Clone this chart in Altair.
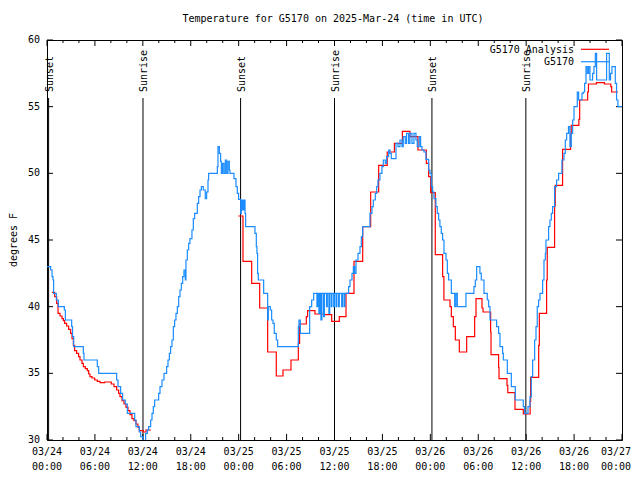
import altair as alt
import pandas as pd

# ---------------- data ----------------
blue_hours = [0.0, 0.46, 0.63, 0.75, 0.83, 1.17, 1.42, 2.17, 2.3, 3.09, 3.2, 3.34, 4.55, 4.63, 6.3, 6.47,
              8.72, 8.89, 9.22, 9.47, 9.8, 10.06, 10.98, 11.14, 11.56, 11.73, 12.0, 12.35, 12.56, 12.73,
              12.98, 13.15, 13.31, 13.48, 13.98, 14.15, 14.4, 14.65, 14.98, 15.15, 15.32, 15.48, 15.65,
              15.82, 15.98, 16.15, 16.32, 16.49, 16.65, 16.82, 16.99, 17.15, 17.32, 17.4, 17.57, 17.74,
              17.9, 18.15, 18.32, 18.49, 18.82, 18.99, 19.16, 19.33, 19.57, 19.82, 19.99, 20.16, 20.24,
              21.33, 21.41, 21.58, 21.74, 21.83, 21.99, 22.16, 22.33, 22.5, 22.66, 22.83, 22.91, 23.41,
              23.66, 23.83, 23.99, 24.25, 24.33, 24.42, 24.5, 24.58, 24.67, 24.8, 24.87, 26.04, 26.21,
              26.29, 26.37, 26.46, 27.13, 27.63, 27.71, 27.96, 28.13, 28.3, 28.46, 28.71, 28.88, 31.47,
              31.55, 31.72, 32.89, 33.14, 33.39, 33.8, 33.9, 34.05, 34.15, 34.3, 34.42, 34.63, 34.73,
              35.0, 35.1, 35.3, 35.4, 35.6, 35.68, 35.9, 36.0, 36.2, 36.28, 36.5, 36.6, 36.9, 37.0,
              37.2, 37.3, 37.77, 37.94,
              38.19, 38.36, 38.52, 38.69, 38.94, 39.19, 39.36, 39.53, 40.44, 40.69, 40.86, 41.11, 41.28,
              41.44, 41.69, 41.94, 42.11, 42.36, 42.53, 42.78, 42.95, 43.11, 43.7, 43.95, 44.2, 44.45,
              44.61, 44.86, 45.03, 45.28, 45.45, 45.7, 45.95, 46.2, 46.36, 46.61, 46.78, 46.95, 47.2,
              47.45, 47.79, 47.95, 48.12, 48.29, 48.45, 48.7, 48.87, 49.04, 49.2, 49.37, 49.54, 49.71,
              49.96, 50.13, 50.29, 50.63, 51.05, 51.21, 51.38, 52.46, 53.46, 53.63, 53.8, 54.21, 54.38,
              54.72, 55.13, 55.3, 55.47, 56.3, 56.55, 56.72, 57.05, 57.14, 57.64, 58.14, 58.64, 59.64,
              59.81, 60.23, 60.48, 60.64, 60.81, 61.06, 61.23, 61.39, 61.56, 61.73, 62.06, 62.23, 62.4,
              62.48, 62.81, 62.98, 63.15, 63.31, 63.56, 63.81, 64.06, 64.48, 64.73, 64.9, 65.07, 65.3,
              65.48, 65.65, 65.82, 65.99, 66.4, 66.57, 66.99, 67.15, 67.32, 67.49, 67.65, 67.82, 67.99,
              68.32, 68.49, 68.66, 68.82, 70.07, 70.41, 70.57, 70.74, 71.16, 71.32, 71.49, 72.0]
blue_temps = [43.0, 42.75, 42.25, 42.0, 41.0, 40.5, 40.0, 39.75, 39.0, 38.5, 37.75, 37.0, 36.5, 36.0, 35.5, 35.0,
              34.5, 34.0, 33.5, 33.0, 32.7, 32.0, 31.5, 31.0, 30.6, 30.25, 29.5, 30.5, 30.75, 31.0,
              31.5, 32.0, 32.5, 33.0, 33.5, 34.0, 34.5, 35.0, 35.5, 36.0, 36.5, 37.0, 37.5,
              38.5, 39.0, 39.5, 40.0, 40.75, 41.25, 41.75, 42.25, 42.75, 42.0, 43.5, 44.25, 44.75,
              45.1, 45.75, 46.6, 47.0, 47.75, 48.25, 48.75, 49.0, 48.75, 48.1, 48.6, 49.5, 50.0,
              50.5, 52.0, 51.5, 50.9, 50.0, 50.75, 50.0, 51.0, 50.0, 50.9, 50.25, 50.0, 49.6,
              49.0, 48.5, 48.05, 47.0, 48.0, 47.25, 48.0, 47.25, 48.0, 47.0, 46.0, 45.5, 44.5,
              44.0, 42.5, 42.0, 41.0, 39.0, 40.0, 39.75, 39.0, 38.75, 38.0, 37.5, 37.0, 38.5,
              39.0, 38.0, 40.0, 40.5, 41.0, 40.0, 41.0, 39.5, 41.0, 39.0, 41.0, 39.25, 41.0,
              40.0, 41.0, 39.5, 41.0, 40.0, 41.0, 40.0, 41.0, 40.0, 41.0, 40.0, 41.0, 40.0, 41.0,
              40.0, 41.0, 41.5, 42.0,
              42.5, 43.0, 42.5, 43.5, 44.0, 44.5, 45.25, 46.0, 47.0, 47.5, 48.0, 48.5, 49.0,
              49.5, 50.0, 50.5, 51.0, 50.75, 51.25, 51.75, 51.5, 51.1, 52.25, 52.0, 52.5, 52.0,
              52.75, 52.25, 53.0, 52.25, 53.0, 52.25, 53.0, 52.5, 52.0, 52.75, 52.0, 51.75, 51.6,
              51.05, 50.25, 50.0, 49.0, 48.6, 48.1, 47.5, 47.0, 46.5, 46.0, 45.5, 45.0, 44.0,
              43.5, 42.5, 42.0, 41.0, 40.0, 41.0, 40.0, 41.0, 41.5, 42.0, 43.0, 42.5, 42.0,
              41.0, 40.5, 40.0, 39.0, 38.5, 38.0, 37.0, 36.5, 36.0, 35.0, 34.0, 33.0, 32.5,
              32.0, 32.5, 33.25, 34.75, 36.0, 37.5, 38.5, 40.0, 40.5, 41.0, 42.0, 43.5, 44.0,
              45.0, 46.0, 46.5, 47.0, 47.5, 49.0, 49.5, 50.0, 51.0, 51.5, 52.5, 53.0, 53.5,
              52.0, 53.0, 54.0, 55.0, 56.1, 55.5, 56.0, 56.1, 56.75, 58.0, 57.5, 58.0, 57.0,
              57.5, 58.0, 59.0, 57.0, 59.0, 57.0, 57.5, 58.0, 56.75, 55.5, 55.0, 55.0]

red_hours_a = [0.63, 0.96, 1.21, 1.38, 1.63, 1.88, 2.05, 2.21, 2.46, 2.71, 2.96, 3.13, 3.3, 3.46, 3.71,
               3.96, 4.13, 4.38, 4.55, 4.8, 5.05, 5.22, 5.38, 5.63, 5.97, 6.3, 6.64, 7.22, 8.05, 8.39,
               8.72, 8.97, 9.14, 9.39, 9.64, 9.89, 10.14, 10.39, 10.64, 10.89, 11.14, 11.39, 11.56,
               12.06, 12.4, 13.0]
red_temps_a = [41.07, 40.75, 40.25, 39.5, 39.3, 39.1, 38.95, 38.75, 38.55, 38.3, 38.0, 37.6, 37.1, 36.7, 36.5,
               36.25, 36.0, 35.75, 35.5, 35.35, 35.2, 34.95, 34.75, 34.65, 34.5, 34.4, 34.3, 34.35, 34.2, 34.0,
               33.75, 33.5, 33.25, 32.95, 32.7, 32.45, 32.2, 31.9, 31.6, 31.45, 31.2, 30.95, 30.7,
               30.6, 30.75, 30.75]
red_hours_b = [23.96, 24.54, 25.63, 26.63, 27.63, 28.71, 29.55, 30.55, 31.47, 31.63, 32.47, 32.63, 33.55,
               34.64, 35.65, 36.6, 37.44, 38.44, 39.53, 40.53, 41.53, 42.6, 43.5, 44.5, 45.45, 46.45,
               47.5, 47.79, 48.04, 48.62, 49.54, 49.7, 50.46, 50.63, 50.88, 51.13, 51.63, 52.55, 53.55,
               53.72, 54.47, 54.6, 55.55, 55.6, 56.55, 56.6, 57.6, 57.7, 58.6, 59.64, 60.5, 60.56,
               61.57, 61.65, 62.56, 62.64, 63.56, 63.64, 64.56, 65.56, 65.64, 66.6, 66.7, 67.7, 67.8,
               68.8, 69.8, 70.6, 70.7, 71.5]
red_temps_b = [46.8, 43.4, 41.75, 39.9, 36.6, 34.8, 35.25, 36.0, 37.25, 38.7, 39.25, 39.7, 39.45,
               39.4, 38.9, 39.25, 41.0, 43.4, 46.0, 48.6, 50.6, 51.6, 52.25, 53.15, 52.75, 51.75,
               50.75, 49.75, 48.55, 43.9, 42.25, 40.5, 40.0, 39.25, 38.5, 37.5, 36.6, 37.75, 39.25,
               40.6, 39.9, 39.6, 38.1, 36.4, 35.45, 34.6, 34.1, 33.55, 32.3, 31.95, 32.9, 34.7,
               37.1, 39.5, 42.0, 44.45, 47.55, 49.1, 51.8, 53.0, 53.6, 54.05, 55.5, 56.1, 56.7,
               56.8, 56.7, 56.5, 56.1, 56.1]

sun_hours = [0.2, 12.02, 24.24, 36.0, 48.2, 59.96]
sun_labels = ["Sunset", "Sunrise", "Sunset", "Sunrise", "Sunset", "Sunrise"]

x_major_hours = list(range(0, 73, 6))
x_minor_hours = [h for h in range(0, 73, 2) if h % 6 != 0]
date_labels = ["03/24", "03/24", "03/24", "03/24", "03/25", "03/25", "03/25", "03/25",
               "03/26", "03/26", "03/26", "03/26", "03/27"]
time_labels = ["00:00", "06:00", "12:00", "18:00"] * 3 + ["00:00"]
y_ticks = [30, 35, 40, 45, 50, 55, 60]
y_tick_labels = ["30", "35", "40", "45", "50", "55", "60"]

title_text = "Temperature for G5170 on 2025-Mar-24 (time in UTC)"
y_title = "degrees F"
legend_labels = ["G5170 Analysis", "G5170"]

# ---------------- chart ----------------
W, H = 575, 400
FONT = "DejaVu Sans Mono"
FS = 10
RED = "#ff0000"
BLUE = "#1a8cff"
LW = 1.2

xs = alt.Scale(domain=[0, 72], nice=False, zero=False)
ys = alt.Scale(domain=[30, 60], nice=False, zero=False)
X = alt.X("hour:Q", scale=xs, axis=None)
Y = alt.Y("temp:Q", scale=ys, axis=None)

blue_df = pd.DataFrame({"hour": blue_hours, "temp": blue_temps})
red_df = pd.concat([
    pd.DataFrame({"hour": red_hours_a, "temp": red_temps_a, "seg": 0}),
    pd.DataFrame({"hour": red_hours_b, "temp": red_temps_b, "seg": 1}),
], ignore_index=True)

sun_df = pd.DataFrame({"hour": sun_hours, "label": sun_labels})
xmaj_df = pd.DataFrame({"hour": x_major_hours, "date": date_labels, "time": time_labels})
xlab_main = xmaj_df[xmaj_df["hour"] < 72]
xlab_last = xmaj_df[xmaj_df["hour"] >= 72]
xmin_df = pd.DataFrame({"hour": x_minor_hours})
yt_df = pd.DataFrame({"temp": y_ticks, "label": y_tick_labels})
one = pd.DataFrame({"k": [0]})

layers = []

# sunrise / sunset lines and labels
layers.append(alt.Chart(sun_df).mark_rule(color="black", strokeWidth=1).encode(
    x=X, y=alt.value(58), y2=alt.value(H)))
layers.append(alt.Chart(sun_df).mark_text(font=FONT, fontSize=FS, angle=270, align="left",
                                          baseline="middle", dy=1, color="black").encode(
    x=X, y=alt.value(52), text="label:N"))

# ticks (inward, gnuplot style)
layers.append(alt.Chart(xmaj_df).mark_rule(color="black").encode(x=X, y=alt.value(H), y2=alt.value(H - 6)))
layers.append(alt.Chart(xmaj_df).mark_rule(color="black").encode(x=X, y=alt.value(0), y2=alt.value(6)))
layers.append(alt.Chart(xmin_df).mark_rule(color="black").encode(x=X, y=alt.value(H), y2=alt.value(H - 3)))
layers.append(alt.Chart(xmin_df).mark_rule(color="black").encode(x=X, y=alt.value(0), y2=alt.value(3)))
layers.append(alt.Chart(yt_df).mark_rule(color="black").encode(y=Y, x=alt.value(0), x2=alt.value(6)))
layers.append(alt.Chart(yt_df).mark_rule(color="black").encode(y=Y, x=alt.value(W), x2=alt.value(W - 6)))

# data lines
layers.append(alt.Chart(red_df).mark_line(color=RED, strokeWidth=LW, interpolate="step-after", clip=True).encode(
    x=X, y=Y, detail="seg:N", order="hour:Q"))
layers.append(alt.Chart(blue_df).mark_line(color=BLUE, strokeWidth=LW, interpolate="step-after", clip=True).encode(
    x=X, y=Y, order="hour:Q"))

# tick labels
for df_, dx_ in ((xlab_main, 0), (xlab_last, -6)):
    layers.append(alt.Chart(df_).mark_text(font=FONT, fontSize=FS, baseline="middle", color="black", dx=dx_).encode(
        x=X, y=alt.value(H + 12), text="date:N"))
    layers.append(alt.Chart(df_).mark_text(font=FONT, fontSize=FS, baseline="middle", color="black", dx=dx_).encode(
        x=X, y=alt.value(H + 27), text="time:N"))
layers.append(alt.Chart(yt_df).mark_text(font=FONT, fontSize=FS, align="right", baseline="middle", color="black").encode(
    y=Y, x=alt.value(-7), text="label:N"))

# titles
layers.append(alt.Chart(one).mark_text(font=FONT, fontSize=FS, align="center", baseline="middle", color="black",
                                       text=title_text).encode(x=alt.value(286), y=alt.value(-21)))
layers.append(alt.Chart(one).mark_text(font=FONT, fontSize=FS, align="center", baseline="middle", color="black",
                                       angle=270, text=y_title).encode(x=alt.value(-33), y=alt.value(200)))

# legend
layers.append(alt.Chart(one).mark_text(font=FONT, fontSize=FS, align="right", baseline="middle", color="black",
                                       text=legend_labels[0]).encode(x=alt.value(527), y=alt.value(9.5)))
layers.append(alt.Chart(one).mark_rule(color=RED, strokeWidth=LW).encode(
    x=alt.value(534), x2=alt.value(562), y=alt.value(9.3)))
layers.append(alt.Chart(one).mark_text(font=FONT, fontSize=FS, align="right", baseline="middle", color="black",
                                       text=legend_labels[1]).encode(x=alt.value(527), y=alt.value(22)))
layers.append(alt.Chart(one).mark_rule(color=BLUE, strokeWidth=LW).encode(
    x=alt.value(534), x2=alt.value(562), y=alt.value(21.7)))

chart = alt.layer(*layers).properties(
    width=W, height=H,
    padding={"left": 39, "top": 32, "right": 10, "bottom": 32},
    autosize=alt.AutoSizeParams(type="none"),
    background="white",
).configure_view(stroke="black", strokeWidth=1)

chart.save("out.html", embed_options={"renderer": "svg", "actions": False})
